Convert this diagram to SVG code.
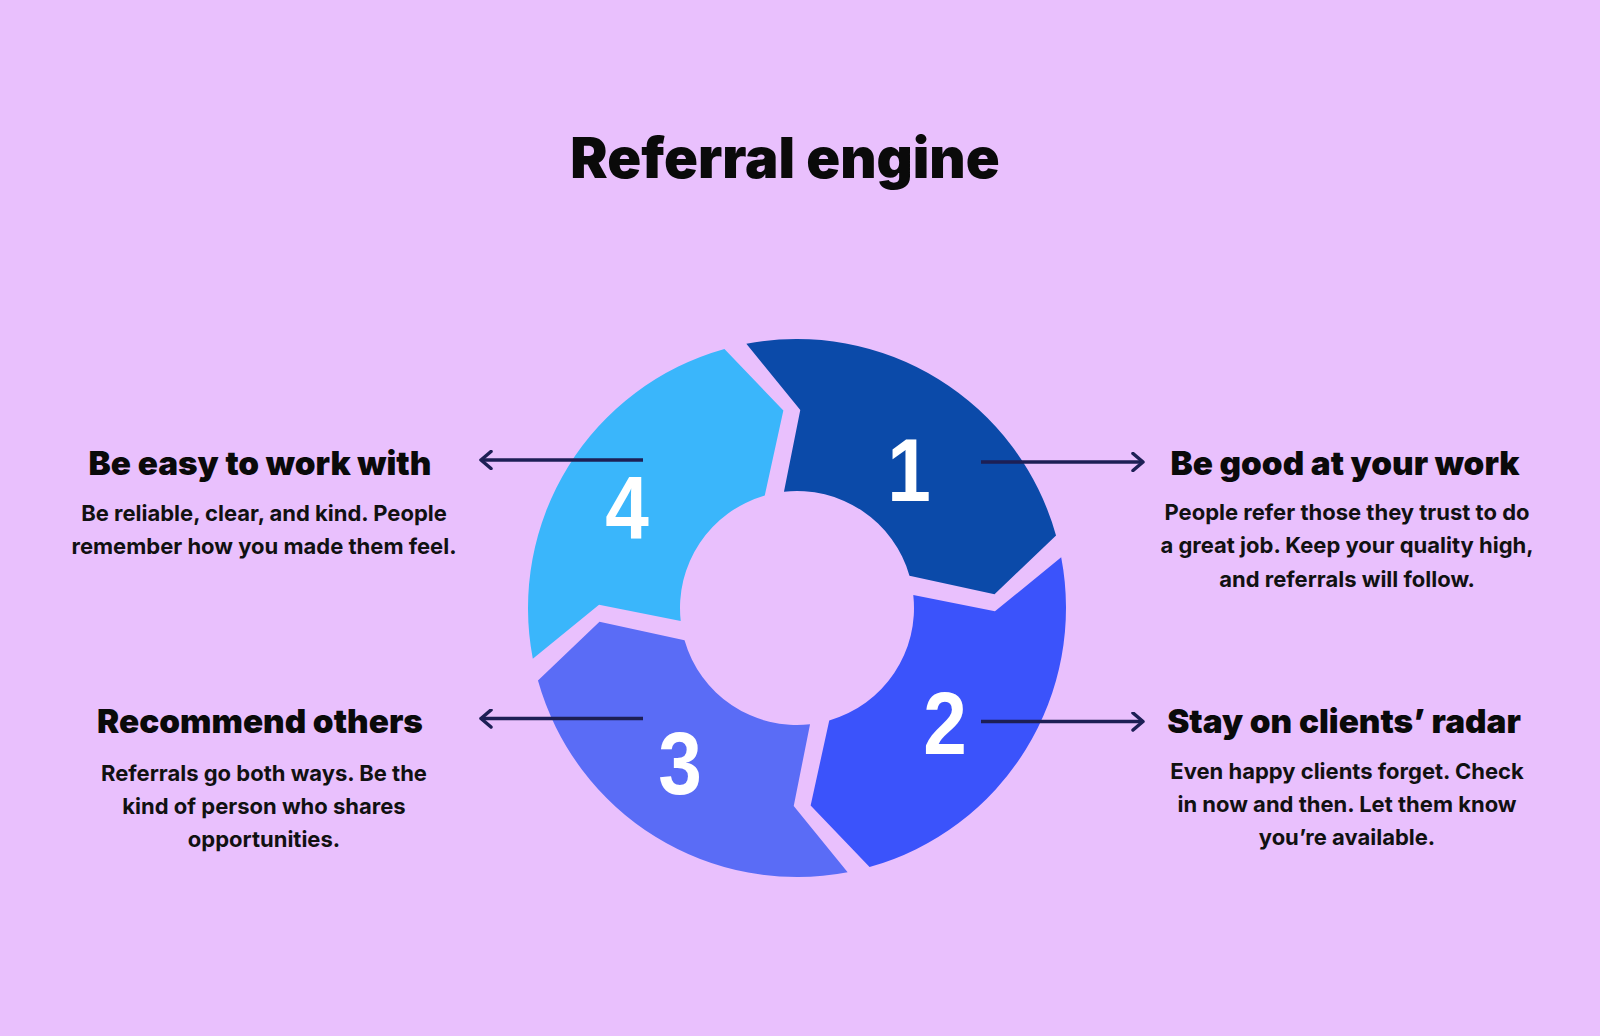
<svg xmlns="http://www.w3.org/2000/svg" width="1600" height="1036" viewBox="0 0 1600 1036">
<style>
.title{font-family:Inter,"Liberation Sans",sans-serif;font-weight:900;font-size:56px;fill:#0a0a0a;text-anchor:middle}
.head{font-family:Inter,"Liberation Sans",sans-serif;font-weight:900;font-size:33.3px;fill:#0a0a0a;text-anchor:middle}
.body{font-family:Inter,"Liberation Sans",sans-serif;font-weight:700;font-size:22px;fill:#111;text-anchor:middle}
.num{font-family:"Liberation Sans",Arial,sans-serif;font-weight:700;font-size:89px;fill:#ffffff;text-anchor:middle}
.conn{stroke:#1d1f55;stroke-width:3.5;fill:none;marker-end:url(#arr)}
</style>
<defs>
<path id="seg" d="M746.36,343.81 L800.28,410.03 L783.96,491.73 A117,117 0 0 1 909.47,575.75 L994.53,594.36 L1056.03,535.44 A269,269 0 0 0 746.36,343.81 Z"/>
<marker id="arr" viewBox="0 0 14 20" refX="12" refY="10" markerWidth="14" markerHeight="20" markerUnits="userSpaceOnUse" orient="auto">
<path d="M2,1.5 L12,10 L2,18.5" fill="none" stroke="#1d1f55" stroke-width="3.5" stroke-linecap="round" stroke-linejoin="round"/>
</marker>
</defs>
<rect width="1600" height="1036" fill="#e9c0fd"/>
<text class="title" x="785" y="178">Referral engine</text>

<g id="segment-1">
<use href="#seg" fill="#0b4aa9"/>
<text class="num" transform="translate(909 501) scale(0.88 1)">1</text>
</g>
<g id="segment-2">
<use href="#seg" fill="#3b53fb" transform="rotate(90 797 608)"/>
<text class="num" transform="translate(945 754) scale(0.88 1)">2</text>
</g>
<g id="segment-3">
<use href="#seg" fill="#5a6cf6" transform="rotate(180 797 608)"/>
<text class="num" transform="translate(680 794) scale(0.88 1)">3</text>
</g>
<g id="segment-4">
<use href="#seg" fill="#3ab6fb" transform="rotate(270 797 608)"/>
<text class="num" transform="translate(627 539) scale(0.88 1)">4</text>
</g>

<g id="connectors">
<line class="conn" x1="643" y1="460" x2="481" y2="460"/>
<line class="conn" x1="981" y1="462" x2="1143" y2="462"/>
<line class="conn" x1="643" y1="718.5" x2="481" y2="718.5"/>
<line class="conn" x1="981" y1="721.5" x2="1143" y2="721.5"/>
</g>

<g id="step-4-text">
<text class="head" x="260" y="475">Be easy to work with</text>
<text class="body" x="264" y="520.5">Be reliable, clear, and kind. People</text>
<text class="body" x="264" y="554">remember how you made them feel.</text>
</g>
<g id="step-1-text">
<text class="head" x="1345" y="475">Be good at your work</text>
<text class="body" x="1347" y="520">People refer those they trust to do</text>
<text class="body" x="1347" y="553">a great job. Keep your quality high,</text>
<text class="body" x="1347" y="586.5">and referrals will follow.</text>
</g>
<g id="step-3-text">
<text class="head" x="260" y="733">Recommend others</text>
<text class="body" x="264" y="780.5">Referrals go both ways. Be the</text>
<text class="body" x="264" y="814">kind of person who shares</text>
<text class="body" x="264" y="847">opportunities.</text>
</g>
<g id="step-2-text">
<text class="head" x="1344" y="733">Stay on clients’ radar</text>
<text class="body" x="1347" y="778.5">Even happy clients forget. Check</text>
<text class="body" x="1347" y="811.5">in now and then. Let them know</text>
<text class="body" x="1347" y="845">you’re available.</text>
</g>
</svg>
